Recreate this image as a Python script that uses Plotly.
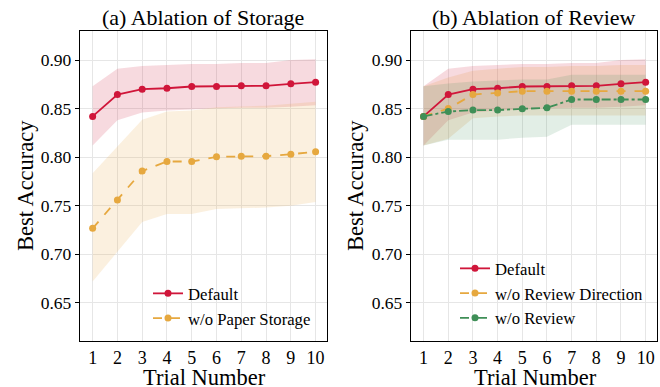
import plotly.graph_objects as go

trials = [1, 2, 3, 4, 5, 6, 7, 8, 9, 10]

default_mean = [0.842, 0.8645, 0.870, 0.871, 0.8728, 0.8728, 0.8735, 0.8735, 0.8756, 0.8773]
default_up = [0.873, 0.891, 0.894, 0.895, 0.896, 0.896, 0.897, 0.897, 0.900, 0.901]
default_lo = [0.812, 0.838, 0.846, 0.848, 0.849, 0.8505, 0.851, 0.851, 0.852, 0.8536]

storage_mean = [0.7266, 0.7559, 0.7856, 0.7955, 0.7955, 0.8003, 0.801, 0.801, 0.803, 0.8055]
storage_up = [0.7835, 0.811, 0.8385, 0.847, 0.848, 0.8515, 0.852, 0.853, 0.855, 0.857]
storage_lo = [0.6718, 0.7027, 0.7332, 0.7414, 0.7415, 0.7466, 0.7475, 0.748, 0.750, 0.7538]

revdir_mean = [0.842, 0.850, 0.8645, 0.866, 0.868, 0.868, 0.868, 0.868, 0.868, 0.868]
revdir_up = [0.873, 0.882, 0.889, 0.891, 0.893, 0.893, 0.894, 0.894, 0.895, 0.895]
revdir_lo = [0.812, 0.819, 0.840, 0.842, 0.843, 0.843, 0.843, 0.843, 0.843, 0.843]

review_mean = [0.842, 0.847, 0.8485, 0.8485, 0.8498, 0.8508, 0.8594, 0.8594, 0.8594, 0.8594]
review_up = [0.873, 0.876, 0.878, 0.879, 0.880, 0.880, 0.885, 0.885, 0.885, 0.885]
review_lo = [0.812, 0.818, 0.818, 0.818, 0.820, 0.821, 0.8334, 0.8334, 0.8334, 0.8334]

y_ticks = [0.65, 0.70, 0.75, 0.80, 0.85, 0.90]
y_ticktext = ["0.65", "0.70", "0.75", "0.80", "0.85", "0.90"]

RED = "#d0163a"
ORANGE = "#e6a83f"
GREEN = "#3f8f57"
FONT = "Liberation Serif"

W, H = 660, 387
fig = go.Figure()


def band(x, up, lo, rgba, xa, ya):
    fig.add_trace(go.Scatter(x=x + x[::-1], y=up + lo[::-1], fill="toself",
                             fillcolor=rgba, line=dict(width=0), mode="lines",
                             hoverinfo="skip", showlegend=False, xaxis=xa, yaxis=ya))


def line(x, y, color, dash, name, xa, ya, legend):
    fig.add_trace(go.Scatter(x=x, y=y, mode="lines+markers", name=name,
                             line=dict(color=color, width=1.8, dash=dash),
                             marker=dict(color=color, size=7),
                             xaxis=xa, yaxis=ya, legend=legend))


# Left panel
band(trials, default_up, default_lo, "rgba(208,22,58,0.16)", "x", "y")
band(trials, storage_up, storage_lo, "rgba(230,168,63,0.17)", "x", "y")
line(trials, default_mean, RED, "solid", "Default", "x", "y", "legend")
line(trials, storage_mean, ORANGE, "dash", "w/o Paper Storage", "x", "y", "legend")

# Right panel
band(trials, default_up, default_lo, "rgba(208,22,58,0.16)", "x2", "y2")
band(trials, revdir_up, revdir_lo, "rgba(224,140,50,0.17)", "x2", "y2")
band(trials, review_up, review_lo, "rgba(63,143,87,0.15)", "x2", "y2")
line(trials, default_mean, RED, "solid", "Default", "x2", "y2", "legend2")
line(trials, revdir_mean, ORANGE, "dash", "w/o Review Direction", "x2", "y2", "legend2")
line(trials, review_mean, GREEN, "dashdot", "w/o Review", "x2", "y2", "legend2")

ydom = [1 - 341 / H, 1 - 31 / H]
xax = dict(range=[0.49, 10.46], tickmode="array", tickvals=trials,
           ticktext=[str(t) for t in trials], showgrid=True, gridcolor="#e6e6e6",
           gridwidth=1, showline=True, linecolor="black", linewidth=1.3, mirror=True,
           ticks="", zeroline=False,
           tickfont=dict(family=FONT, size=18, color="black"))
yax = dict(range=[0.6105, 0.930], tickmode="array", tickvals=y_ticks, ticktext=y_ticktext,
           showgrid=True, gridcolor="#e6e6e6", gridwidth=1, showline=True,
           linecolor="black", linewidth=1.3, mirror=True, ticks="outside", ticklen=4,
           tickcolor="black", zeroline=False,
           tickfont=dict(family=FONT, size=17.5, color="black"), domain=ydom)

fig.update_layout(
    width=W, height=H, margin=dict(l=0, r=0, t=0, b=0),
    paper_bgcolor="white", plot_bgcolor="white",
    xaxis=dict(xax, domain=[80 / W, 327 / W], anchor="y"),
    yaxis=dict(yax, anchor="x"),
    xaxis2=dict(xax, domain=[411 / W, 657 / W], anchor="y2"),
    yaxis2=dict(yax, anchor="x2"),
    legend=dict(x=148 / W, y=1 - 276 / H, xanchor="left", yanchor="top",
                bgcolor="rgba(0,0,0,0)", font=dict(family=FONT, size=16.7, color="black")),
    legend2=dict(x=455 / W, y=1 - 251 / H, xanchor="left", yanchor="top",
                 bgcolor="rgba(0,0,0,0)", font=dict(family=FONT, size=16.7, color="black")),
    showlegend=True,
)

ann = [
    dict(text="(a) Ablation of Storage", x=203 / W, y=1 - 17 / H, size=22, angle=0),
    dict(text="(b) Ablation of Review", x=534 / W, y=1 - 17 / H, size=22, angle=0),
    dict(text="Trial Number", x=204 / W, y=1 - 377 / H, size=22.5, angle=0),
    dict(text="Trial Number", x=535 / W, y=1 - 377 / H, size=22.5, angle=0),
    dict(text="Best Accuracy", x=25 / W, y=1 - 186 / H, size=22.5, angle=-90),
    dict(text="Best Accuracy", x=355 / W, y=1 - 186 / H, size=22.5, angle=-90),
]
for a in ann:
    fig.add_annotation(text=a["text"], x=a["x"], y=a["y"], xref="paper", yref="paper",
                       xanchor="center", yanchor="middle", showarrow=False,
                       textangle=a["angle"],
                       font=dict(family=FONT, size=a["size"], color="black"))

fig.write_html("out.html", config={"displayModeBar": False},
               post_script="document.body.style.margin='0px';")
